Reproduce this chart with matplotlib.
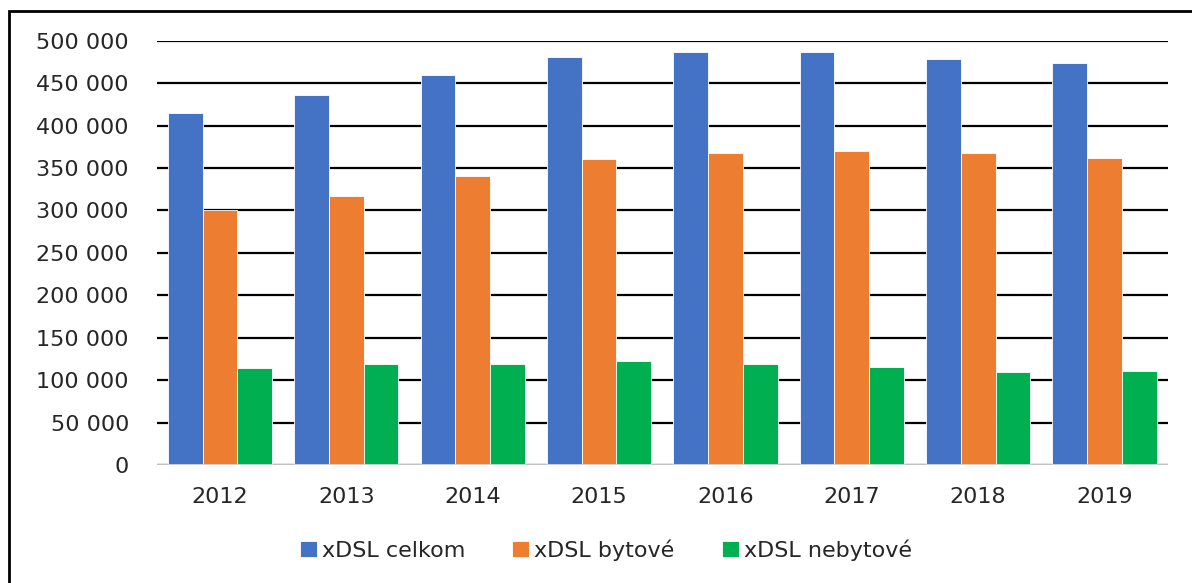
import numpy as np
import matplotlib.pyplot as plt
from matplotlib.patches import Rectangle
from matplotlib.ticker import FuncFormatter

years = ['2012', '2013', '2014', '2015', '2016', '2017', '2018', '2019']
celkom = [415000, 436000, 459000, 481000, 487000, 487000, 479000, 474000]
bytove = [300000, 317000, 341000, 361000, 368000, 370000, 368000, 362000]
nebytove = [114000, 119000, 119000, 122000, 119000, 116000, 110000, 111000]

series_names = ['xDSL celkom', 'xDSL bytové', 'xDSL nebytové']
colors = ['#4472C4', '#ED7D31', '#00B050']

plt.rcParams['font.family'] = ['DejaVu Sans']

fig = plt.figure(figsize=(11.92, 5.83), dpi=100)
W, H = 1192, 583
left, right, top, bottom = 156.7, 1167.7, 40.7, 465.0
ax = fig.add_axes([left / W, 1 - bottom / H, (right - left) / W, (bottom - top) / H])

# outer frame of the chart (runs off the right and bottom edge)
fig.patches.append(Rectangle((9 / W, -0.1), 1.2, 1 - 11 / H + 0.1,
                             transform=fig.transFigure, fill=False,
                             edgecolor='black', linewidth=2.0))

x = np.arange(len(years))
width = 0.275
for i, (vals, name, c) in enumerate(zip([celkom, bytove, nebytove], series_names, colors)):
    ax.bar(x + (i - 1) * width, vals, width, color=c, label=name,
           edgecolor='white', linewidth=0.6, zorder=3)

ax.set_xlim(-0.5, len(years) - 0.5)
ax.set_ylim(0, 500000)
ax.set_yticks(np.arange(0, 500001, 50000))
ax.yaxis.set_major_formatter(FuncFormatter(lambda v, p: f'{int(v):,}'.replace(',', ' ')))
ax.set_xticks(x)
ax.set_xticklabels(years)

ax.grid(axis='y', color='black', linewidth=1.6, zorder=0)
ax.axhline(0, color='#d9d9d9', linewidth=2.0, zorder=4)
for s in ax.spines.values():
    s.set_visible(False)
ax.tick_params(axis='both', length=0, labelsize=16, colors='#262626')
ax.tick_params(axis='y', pad=20)
ax.tick_params(axis='x', pad=16)

fs = 16 * 100 / 72  # font size in pixels
ax.legend(loc='center left',
          bbox_to_anchor=((300 - left) / (right - left), -(550 - bottom) / (bottom - top)),
          ncol=3, frameon=False, fontsize=16, handlelength=17 / fs, handleheight=17 / fs,
          handletextpad=5 / fs, columnspacing=47 / fs, labelcolor='#262626',
          borderpad=0, borderaxespad=0)

fig.savefig('out.png', dpi=100)
